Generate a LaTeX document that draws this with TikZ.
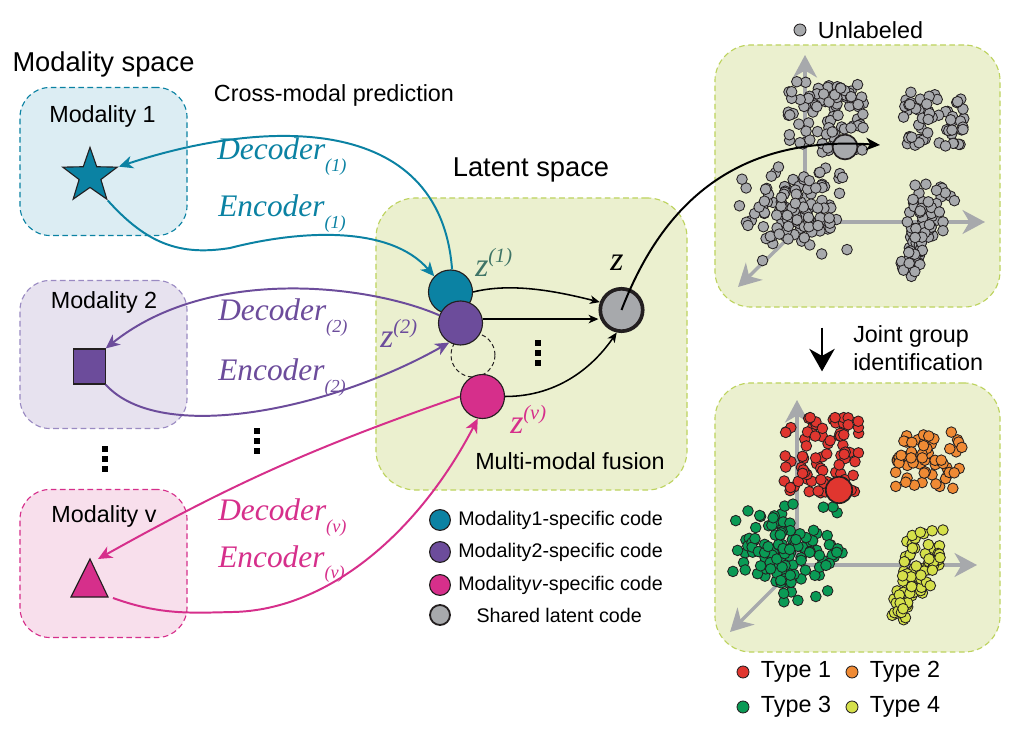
\documentclass[tikz,border=0pt]{standalone}
\usepackage{fontspec}
\setmainfont{Liberation Sans}
\newfontfamily\tnr{Liberation Serif}
\usepackage{xcolor}
\usepackage{tikz}
\usetikzlibrary{arrows.meta,shapes,positioning,calc}

\definecolor{teal1}{HTML}{0B82A3}
\definecolor{purp}{HTML}{6C4C9B}
\definecolor{purpline}{HTML}{9A8AC2}
\definecolor{mag}{HTML}{D62F8B}
\definecolor{zgray}{HTML}{A7A9AC}
\definecolor{ink}{HTML}{231F20}
\definecolor{bluebg}{HTML}{DCEDF3}
\definecolor{purpbg}{HTML}{E7E2EF}
\definecolor{pinkbg}{HTML}{F8DFEC}
\definecolor{latbg}{HTML}{EBF0CF}
\definecolor{latline}{HTML}{BDD35E}
\definecolor{zone}{HTML}{3E7466}
\definecolor{tred}{HTML}{E0362F}
\definecolor{torange}{HTML}{EF8A34}
\definecolor{tgreen}{HTML}{0A9A55}
\definecolor{tyellow}{HTML}{D5E04A}

\newcommand{\coder}[2]{{\tnr\itshape\fontsize{22.3}{26}\selectfont #1\raisebox{-8pt}{\fontsize{13}{13}\selectfont(#2)}}}
\newcommand{\zlab}[1]{{\tnr\itshape\fontsize{24}{28}\selectfont z\raisebox{10pt}{\fontsize{14.5}{14.5}\selectfont(#1)}}}

\begin{document}
\begin{tikzpicture}[x=0.025cm,y=0.025cm,
    >={Stealth[length=10pt,width=9pt,inset=3pt]},
    space/.style={draw,dash pattern=on 4pt off 2.5pt,line width=0.8pt,rounded corners=0.75cm,minimum width=4.175cm,minimum height=3.7cm},
    code/.style={circle,draw=ink,line width=0.8pt,minimum size=1.1cm,inner sep=0},
    wire/.style={->,line width=1.4pt},
    flow/.style={-{Stealth[length=7pt,width=6pt,inset=2pt]},line width=1.1pt},
    axisline/.style={-{Stealth[length=16pt,width=17pt,inset=5pt]},draw=zgray,line width=2.4pt},
    spot/.style={draw=ink,line width=0.6pt},
    tiny/.style={circle,spot,minimum size=0.3cm,inner sep=0},
    txt/.style={font=\fontsize{16.6}{19}\selectfont,inner sep=0},
    ]
    \fill[white] (0,0) rectangle (1018,750);
    \useasboundingbox (0,0) rectangle (1018,750);

    % modality space
    \node[txt,font=\fontsize{19.4}{22}\selectfont,anchor=base] at (103.5,678) {Modality space};
    \path
        (103.5,588.5) node[space,draw=teal1,fill=bluebg] (m1) {}
     ++ (0,-193)      node[space,draw=purpline,fill=purpbg] (m2) {}
     ++ (0,-209)      node[space,draw=mag,fill=pinkbg] (mv) {}
     ;
    \node[txt,anchor=base] at (102.5,627) {Modality 1};
    \node[txt,anchor=base] at (104,441) {Modality 2};
    \node[txt,anchor=base] at (104,227) {Modality v};
    \node[star,star points=5,star point ratio=2.5,draw=ink,fill=teal1,line width=0.8pt,minimum size=1.43cm,inner sep=0] (s1) at (90,574) {};
    \node[draw=ink,fill=purp,line width=0.8pt,minimum width=0.78cm,minimum height=0.875cm,inner sep=0] (s2) at (89.5,383.5) {};
    \draw[fill=mag,draw=ink,line width=0.8pt] (71,153) -- (90,191) -- (108,153) -- cycle;
    \coordinate (svtop) at (98,191);
    \coordinate (svbase) at (113,152);
    \foreach \d in {0,10,20} \fill (102,278+\d) rectangle ++(6,6);

    % latent space
    \node[txt,anchor=base] at (334,648) {Cross-modal prediction};
    \node[txt,font=\fontsize{19.4}{22}\selectfont,anchor=base] at (531,573) {Latent space};
    \node[space,draw=latline,fill=latbg,minimum width=7.775cm,minimum height=7.3cm,rounded corners=1cm] (lat) at (531.5,406) {};
    \node[code,dash pattern=on 3pt off 2pt,line width=0.7pt] (zd) at (473,395) {};
    \node[code,fill=teal1] (z1) at (450.5,458) {};
    \node[code,fill=purp] (z2) at (460.5,427) {};
    \node[code,fill=mag] (zv) at (482.5,353.5) {};
    \node[code,fill=zgray,line width=2.6pt,minimum size=1.06cm] (z) at (621.5,440) {};
    \node[anchor=base west,inner sep=0,text=zone] at (475,473) {\zlab{1}};
    \node[anchor=base west,inner sep=0,text=purp] at (380,402) {\zlab{2}};
    \node[anchor=base west,inner sep=0,text=mag] at (510,316) {\zlab{v}};
    \node[anchor=base west,inner sep=0] at (610,479) {\tnr\itshape\fontsize{24}{28}\selectfont z};
    \draw[flow] (z1.east) .. controls +(40,10) and +(-40,10) .. (z.160);
    \draw[flow] (z2.10) -- (z2.10 -| z.west);
    \draw[flow] (zv.east) .. controls +(55,0) and +(-22,-32) .. (z.258);
    \foreach \d in {0,10,20} \fill (535,384+\d) rectangle ++(6,6);
    \node[txt,anchor=base] at (570,280) {Multi-modal fusion};

    % encoders and decoders
    \draw[wire,teal1] (z1.86) .. controls (440,640) and (260,630) .. (s1.outer point 5);
    \draw[wire,teal1] (s1.outer point 4) .. controls (147,506) and (180,494) .. (230,502)
        .. controls (300,520) and (390,525) .. (z1.136);
    \draw[wire,purp] (z2.160) .. controls (370,465) and (210,485) .. (s2.north east);
    \draw[wire,purp] (s2.south east) .. controls (160,305) and (330,340) .. (z2.240);
    \draw[wire,mag] (zv.west) to[bend right=5] (svtop);
    \draw[wire,mag] (svbase) .. controls (160,135) and (190,137) .. (233,138)
        .. controls (330,140) and (420,220) .. (zv.258);
    \node[anchor=base west,inner sep=0,text=teal1] at (217,590) {\coder{Decoder}{1}};
    \node[anchor=base west,inner sep=0,text=teal1] at (218,533) {\coder{Encoder}{1}};
    \node[anchor=base west,inner sep=0,text=purp] at (218,429) {\coder{Decoder}{2}};
    \node[anchor=base west,inner sep=0,text=purp] at (218,369) {\coder{Encoder}{2}};
    \node[anchor=base west,inner sep=0,text=mag] at (218,229) {\coder{Decoder}{v}};
    \node[anchor=base west,inner sep=0,text=mag] at (218,183) {\coder{Encoder}{v}};
    \foreach \d in {0,10,20} \fill (254,296+\d) rectangle ++(6,6);

    % legend
    \path
        (440,230) node[code,fill=teal1,minimum size=0.52cm] (l1) {}
     ++ (0,-32)   node[code,fill=purp,minimum size=0.52cm] (l2) {}
     ++ (0,-33)   node[code,fill=mag,minimum size=0.52cm] (lv) {}
     ++ (0,-30)   node[code,fill=zgray,line width=1.3pt,minimum size=0.5cm] (ls) {}
     ;
    \node[txt,font=\fontsize{14}{16}\selectfont,right=5pt of l1] {Modality1-specific code};
    \node[txt,font=\fontsize{14}{16}\selectfont,right=5pt of l2] {Modality2-specific code};
    \node[txt,font=\fontsize{14}{16}\selectfont,right=5pt of lv] {Modality\textit{v}-specific code};
    \node[txt,font=\fontsize{14}{16}\selectfont,right=18pt of ls] {Shared latent code};

    % unlabeled panel
    \node[tiny,fill=zgray] (ud) at (800,720) {};
    \node[txt,right=8pt of ud] {Unlabeled};
    \node[space,draw=latline,fill=latbg,minimum width=7.125cm,minimum height=6.55cm,rounded corners=0.9cm] (tp) at (857.5,574) {};
    \draw[axisline] (805,528) -- (805,695);
    \draw[axisline] (805,528) -- (985,528);
    \draw[axisline] (805,528) -- (738,463);
    \pgfmathsetseed{11}
    \foreach \i in {1,...,95} \filldraw[spot,fill=zgray] ({826+38*rand},{634+36*rand}) circle (5.3);
    \foreach \i in {1,...,60} \filldraw[spot,fill=zgray] ({933+32*rand},{631+27*rand}) circle (5.3);
    \foreach \i in {1,...,125} \filldraw[spot,fill=zgray] ({795+30*(rand+rand)},{540+27*(rand+rand)}) circle (5.3);
    \foreach \i in {1,...,95} {
        \pgfmathsetmacro\pa{rand}
        \filldraw[spot,fill=zgray] ({921+14*\pa+(15+7*\pa)*rand},{515+40*\pa+(14+4*\pa)*rand}) circle (5.3);
    }
    \node[circle,spot,fill=zgray,line width=1.2pt,minimum size=0.62cm,inner sep=0] (u0) at (845,603) {};
    \coordinate (utip) at (880,605);
    \draw[->,line width=1.4pt] (z.center) .. controls (660,540) and (730,615) .. (utip);

    % identified panel
    \node[space,draw=latline,fill=latbg,minimum width=7.125cm,minimum height=6.725cm,rounded corners=0.9cm] (bp) at (857.5,232.5) {};
    \draw[-{Stealth[length=16pt,width=18pt,inset=5pt]},line width=2pt] ($(tp.south)+(-35.5,-20)$) -- ($(bp.north)+(-35.5,11)$);
    \node[txt,anchor=base west] at (853,407) {Joint group};
    \node[txt,anchor=base west] at (853,379) {identification};
    \draw[axisline] (797,185) -- (797,350);
    \draw[axisline] (797,185) -- (977,185);
    \draw[axisline] (797,185) -- (730,118);
    \pgfmathsetseed{29}
    \foreach \i in {1,...,85} \filldraw[spot,fill=tred] ({821+40*rand},{295+38*rand}) circle (5.3);
    \foreach \i in {1,...,60} \filldraw[spot,fill=torange] ({928+34*rand},{290+29*rand}) circle (5.3);
    \foreach \i in {1,...,125} \filldraw[spot,fill=tgreen] ({788+30*(rand+rand)},{198+26*(rand+rand)}) circle (5.3);
    \foreach \i in {1,...,95} {
        \pgfmathsetmacro\pa{rand}
        \filldraw[spot,fill=tyellow] ({914+14*\pa+(15+7*\pa)*rand},{172+40*\pa+(14+4*\pa)*rand}) circle (5.3);
    }
    \node[circle,spot,fill=tred,line width=1.2pt,minimum size=0.66cm,inner sep=0] (r0) at (839,260) {};
    \path
        (743,78) node[tiny,fill=tred] (t1) {}
     ++ (109,0)  node[tiny,fill=torange] (t2) {}
     ++ (-109,-35) node[tiny,fill=tgreen] (t3) {}
     ++ (109,0)  node[tiny,fill=tyellow] (t4) {}
     ;
    \node[txt,right=8pt of t1] {Type 1};
    \node[txt,right=8pt of t2] {Type 2};
    \node[txt,right=8pt of t3] {Type 3};
    \node[txt,right=8pt of t4] {Type 4};
\end{tikzpicture}
\end{document}
